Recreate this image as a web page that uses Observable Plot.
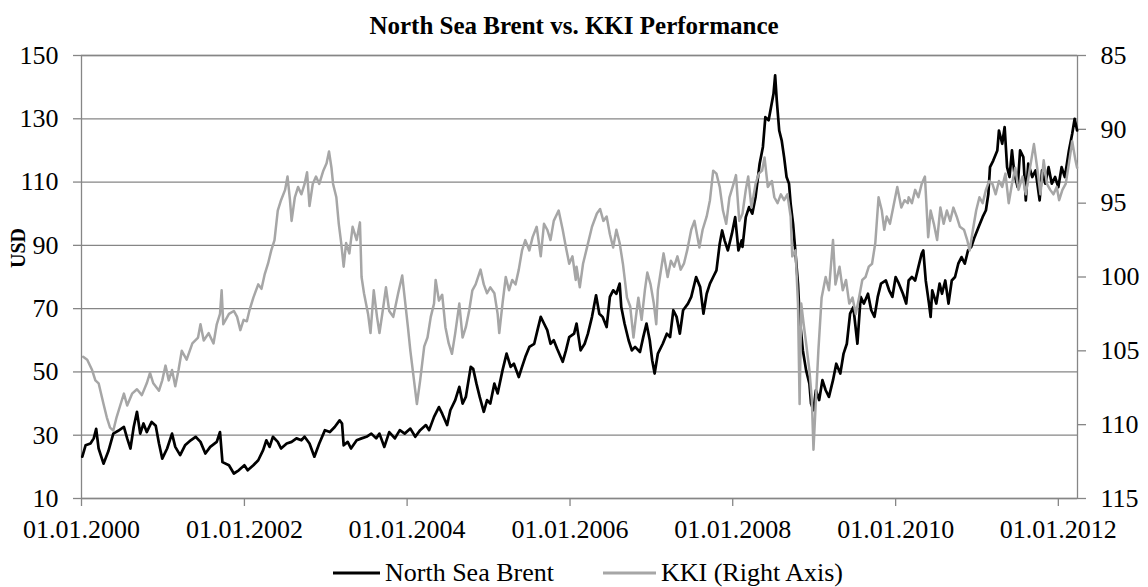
<!DOCTYPE html>
<html>
<head>
<meta charset="utf-8">
<script src="https://cdn.jsdelivr.net/npm/d3@7"></script>
<script src="https://cdn.jsdelivr.net/npm/@observablehq/plot@0.6"></script>
<style>
  html, body { margin: 0; padding: 0; background: #fff; }
  body { width: 1148px; height: 587px; overflow: hidden; font-family: "Liberation Serif", "Times New Roman", serif; }
  #title { height: 40px; line-height: 40px; text-align: center; font-weight: bold; font-size: 25px; padding-top: 6px; box-sizing: border-box; }
  #legend { position: relative; height: 37px; margin-top: 4px; font-size: 26px; }
  #legend .item { position: absolute; top: 0; height: 37px; display: flex; align-items: center; }
  #legend svg { margin-right: 5px; }
</style>
</head>
<body>
<div id="title">North Sea Brent vs. KKI Performance</div>
<div id="chart"></div>
<div id="legend"></div>
<script>
// ---- Data (decimal year, value) ----
const seriesNames = ["North Sea Brent", "KKI (Right Axis)"];
const usdTicks = [10, 30, 50, 70, 90, 110, 130, 150];
const kkiTicks = [85, 90, 95, 100, 105, 110, 115];
const dateTicks = ["2000-01-01", "2002-01-01", "2004-01-01", "2006-01-01", "2008-01-01", "2010-01-01", "2012-01-01"];
const xDomain = ["2000-01-01", "2012-03-27"];

// North Sea Brent, USD
const brent = [
[2000.01,23.2],[2000.05,26.8],[2000.11,27.4],[2000.15,29.0],[2000.18,32.0],[2000.21,25.8],[2000.27,21.0],[2000.33,25.0],
[2000.39,30.5],[2000.45,31.4],[2000.52,32.6],[2000.56,29.0],[2000.60,25.8],[2000.64,32.6],[2000.68,37.4],[2000.72,30.5],
[2000.76,33.7],[2000.80,31.0],[2000.86,34.2],[2000.91,33.0],[2000.95,27.4],[2000.99,22.6],[2001.05,25.8],[2001.11,30.5],
[2001.15,26.3],[2001.21,23.7],[2001.27,26.8],[2001.34,28.4],[2001.40,29.5],[2001.46,27.9],[2001.52,24.2],[2001.58,26.3],
[2001.66,27.9],[2001.70,31.0],[2001.73,21.5],[2001.81,20.5],[2001.87,17.9],[2001.93,18.9],
[2002.00,20.5],[2002.04,18.9],[2002.11,20.5],[2002.17,22.1],[2002.23,25.3],[2002.27,28.4],[2002.31,26.3],[2002.35,29.5],
[2002.41,27.9],[2002.45,25.8],[2002.52,27.4],[2002.58,27.9],[2002.64,29.0],[2002.70,28.4],[2002.74,29.5],[2002.80,27.4],
[2002.86,23.2],[2002.92,27.4],[2002.99,31.6],[2003.05,31.0],[2003.11,32.6],[2003.17,34.7],[2003.20,33.7],[2003.22,26.8],
[2003.27,27.9],[2003.31,25.8],[2003.38,28.4],[2003.44,29.0],[2003.50,29.5],[2003.56,30.5],[2003.62,29.0],[2003.66,30.5],
[2003.72,26.3],[2003.78,31.0],[2003.85,29.0],[2003.91,31.6],[2003.97,30.5],
[2004.04,32.1],[2004.10,29.5],[2004.16,31.6],[2004.23,33.2],[2004.27,31.6],[2004.33,35.8],[2004.39,38.9],[2004.43,36.8],
[2004.49,33.2],[2004.53,37.9],[2004.59,41.1],[2004.64,45.3],[2004.68,40.0],[2004.72,42.1],[2004.78,51.6],[2004.81,51.0],
[2004.85,46.3],[2004.89,42.1],[2004.94,37.4],[2004.98,41.1],[2005.02,40.0],[2005.07,46.3],[2005.11,43.2],[2005.17,50.5],
[2005.22,55.8],[2005.27,51.6],[2005.31,52.6],[2005.37,48.4],[2005.41,51.6],[2005.45,54.7],[2005.50,57.9],[2005.56,58.9],
[2005.60,63.2],[2005.64,67.4],[2005.68,65.3],[2005.72,63.2],[2005.76,58.9],[2005.80,60.0],[2005.84,57.4],[2005.91,53.2],
[2005.95,56.8],[2005.99,61.0],[2006.05,62.1],
[2006.08,65.3],[2006.13,56.8],[2006.18,58.9],[2006.22,62.1],[2006.27,67.4],[2006.32,74.2],[2006.36,68.4],[2006.40,67.4],
[2006.45,64.2],[2006.49,73.7],[2006.53,75.8],[2006.57,74.7],[2006.61,77.9],[2006.63,70.5],[2006.67,65.3],[2006.72,60.0],
[2006.76,56.8],[2006.80,57.9],[2006.86,56.3],[2006.90,61.0],[2006.94,65.3],[2006.98,60.0],[2007.01,53.7],[2007.04,49.5],
[2007.08,55.8],[2007.14,58.9],[2007.19,62.1],[2007.23,61.0],[2007.27,69.5],[2007.31,67.4],[2007.35,62.1],[2007.39,69.5],
[2007.45,71.6],[2007.49,73.7],[2007.55,80.0],[2007.60,76.8],[2007.64,68.4],[2007.68,74.7],[2007.72,77.9],[2007.76,80.0],
[2007.80,82.1],[2007.84,90.5],[2007.87,94.7],[2007.90,91.6],[2007.94,88.4],[2007.99,93.7],[2008.03,98.9],[2008.07,88.4],
[2008.11,91.6],
[2008.12,89.5],[2008.16,98.9],[2008.20,102.1],[2008.24,100.0],[2008.28,105.3],[2008.33,115.8],[2008.37,121.1],[2008.40,130.5],
[2008.44,129.5],[2008.47,133.7],[2008.50,137.9],[2008.52,143.7],[2008.54,135.8],[2008.57,126.3],[2008.60,123.2],[2008.63,117.9],
[2008.66,111.6],[2008.69,109.5],[2008.71,103.2],[2008.74,96.8],[2008.77,87.4],[2008.80,77.9],[2008.82,67.4],[2008.86,56.8],
[2008.90,50.5],[2008.94,46.3],[2008.96,40.0],[2008.99,37.9],[2009.02,44.2],[2009.06,41.1],[2009.10,47.4],[2009.14,44.2],
[2009.18,42.1],[2009.23,47.4],[2009.27,52.6],[2009.32,49.5],[2009.36,55.8],[2009.40,58.9],[2009.44,68.4],[2009.48,70.5],
[2009.53,58.9],[2009.57,73.7],[2009.61,71.6],[2009.66,74.7],[2009.70,69.5],[2009.74,67.4],[2009.78,73.7],[2009.82,77.9],
[2009.88,78.9],[2009.92,75.8],[2009.96,73.7],[2010.00,80.0],[2010.04,77.9],[2010.09,74.7],[2010.13,71.6],
[2010.16,78.9],[2010.20,80.0],[2010.24,78.9],[2010.28,83.2],[2010.32,87.4],[2010.34,88.4],[2010.37,78.9],[2010.41,71.6],
[2010.43,67.4],[2010.45,75.8],[2010.50,71.6],[2010.54,77.9],[2010.57,74.7],[2010.61,78.9],[2010.65,71.6],[2010.69,78.9],
[2010.73,80.0],[2010.77,84.2],[2010.81,86.3],[2010.85,84.2],[2010.89,88.4],[2010.93,89.5],[2010.97,92.6],[2011.02,95.8],
[2011.07,99.0],[2011.11,101.1],[2011.14,106.3],[2011.16,114.7],[2011.20,116.8],[2011.25,120.0],[2011.27,126.3],[2011.31,122.1],
[2011.34,127.4],[2011.37,114.7],[2011.40,111.6],[2011.43,120.0],[2011.46,112.6],[2011.50,108.4],[2011.53,120.0],[2011.57,117.9],
[2011.60,104.2],[2011.63,115.8],[2011.68,111.6],[2011.72,113.7],[2011.77,104.2],[2011.80,113.7],[2011.84,109.5],[2011.88,114.7],
[2011.92,109.5],[2011.96,111.6],[2012.00,108.4],[2012.04,114.7],[2012.08,111.6],[2012.13,120.0],[2012.17,125.3],[2012.20,130.0],
[2012.23,126.3]
];

// KKI, right axis (inverted)
const kki = [
[2000.02,105.4],[2000.07,105.6],[2000.13,106.3],[2000.17,107.0],[2000.21,107.2],[2000.27,108.6],[2000.31,109.5],[2000.35,110.2],
[2000.39,110.4],[2000.43,109.5],[2000.48,108.6],[2000.52,107.9],[2000.56,108.7],[2000.62,107.9],[2000.68,107.6],[2000.74,108.0],
[2000.80,107.2],[2000.84,106.5],[2000.88,107.2],[2000.95,107.7],[2000.99,107.0],[2001.03,106.0],[2001.07,107.0],[2001.11,106.3],
[2001.15,107.4],[2001.19,106.3],[2001.23,105.0],[2001.29,105.6],[2001.36,104.5],[2001.43,104.1],[2001.46,103.2],[2001.50,104.3],
[2001.56,103.8],[2001.62,104.5],[2001.66,103.2],[2001.70,102.5],[2001.72,100.9],[2001.74,103.2],[2001.81,102.5],[2001.87,102.3],
[2001.91,102.7],[2001.95,103.6],[2001.99,102.9],
[2002.03,103.0],[2002.06,102.3],[2002.11,101.4],[2002.17,100.5],[2002.21,100.8],[2002.25,99.8],[2002.29,99.1],[2002.33,98.2],
[2002.37,97.5],[2002.41,95.5],[2002.45,94.8],[2002.50,94.1],[2002.53,93.2],[2002.56,94.8],[2002.58,96.2],[2002.62,94.6],
[2002.66,93.9],[2002.70,94.4],[2002.74,93.7],[2002.77,92.9],[2002.80,95.2],[2002.84,93.7],[2002.88,93.2],[2002.92,93.7],
[2002.97,92.8],[2003.01,92.3],[2003.04,91.5],[2003.07,92.6],[2003.09,93.7],[2003.13,94.6],[2003.16,96.4],[2003.19,97.7],
[2003.22,99.3],[2003.25,97.7],[2003.29,98.4],[2003.33,96.6],[2003.38,97.5],[2003.42,96.3],[2003.44,100.0],[2003.47,101.1],
[2003.52,102.5],[2003.55,103.8],[2003.59,100.9],[2003.63,102.7],[2003.66,103.8],[2003.70,102.3],[2003.74,100.7],[2003.78,102.3],
[2003.83,102.7],[2003.89,101.1],[2003.94,99.9],[2003.97,101.4],[2004.01,103.4],
[2004.04,105.0],[2004.08,106.8],[2004.12,108.6],[2004.16,107.0],[2004.21,104.7],[2004.25,104.1],[2004.29,102.7],[2004.33,101.8],
[2004.35,100.2],[2004.39,101.6],[2004.43,101.2],[2004.47,103.4],[2004.51,104.5],[2004.55,105.2],[2004.59,103.8],[2004.64,101.8],
[2004.68,104.1],[2004.72,103.4],[2004.76,102.3],[2004.80,100.9],[2004.84,100.5],[2004.90,99.5],[2004.94,100.5],[2004.98,101.1],
[2005.02,100.7],[2005.07,101.1],[2005.11,102.5],[2005.13,103.8],[2005.17,101.8],[2005.21,100.0],[2005.25,100.9],[2005.29,100.2],
[2005.33,100.5],[2005.37,99.5],[2005.41,98.2],[2005.45,97.5],[2005.50,98.2],[2005.54,97.3],[2005.59,96.6],[2005.64,98.6],
[2005.68,96.4],[2005.72,96.8],[2005.76,97.5],[2005.80,96.2],[2005.86,95.5],[2005.91,96.8],[2005.95,98.0],[2005.99,99.1],
[2006.03,98.6],[2006.07,100.2],
[2006.08,99.3],[2006.12,100.7],[2006.16,99.1],[2006.20,98.2],[2006.27,96.6],[2006.33,95.7],[2006.37,95.4],[2006.41,96.2],
[2006.45,95.9],[2006.49,97.1],[2006.53,98.0],[2006.57,96.8],[2006.61,97.7],[2006.65,99.1],[2006.70,101.4],[2006.74,102.0],
[2006.78,104.1],[2006.81,102.7],[2006.84,101.4],[2006.88,102.9],[2006.92,100.9],[2006.95,99.7],[2006.99,100.5],[2007.03,101.8],
[2007.06,103.2],[2007.08,100.9],[2007.13,99.1],[2007.15,98.4],[2007.20,100.0],[2007.24,98.9],[2007.28,99.3],[2007.32,98.6],
[2007.36,99.5],[2007.40,99.1],[2007.44,98.2],[2007.49,96.8],[2007.53,96.2],[2007.59,98.0],[2007.63,96.8],[2007.68,95.9],
[2007.72,94.8],[2007.76,92.8],[2007.80,93.0],[2007.84,93.9],[2007.88,95.5],[2007.92,96.4],[2007.96,94.6],[2008.01,93.7],
[2008.04,93.1],[2008.08,96.2],
[2008.12,95.7],[2008.16,94.1],[2008.19,93.2],[2008.23,95.3],[2008.28,93.7],[2008.32,93.0],[2008.36,92.8],[2008.39,91.9],
[2008.43,93.9],[2008.48,93.5],[2008.51,94.6],[2008.55,95.0],[2008.59,94.4],[2008.63,94.8],[2008.67,94.4],[2008.71,95.9],
[2008.73,98.6],[2008.77,98.2],[2008.80,101.8],[2008.82,108.6],[2008.84,101.8],[2008.87,103.2],[2008.90,104.5],[2008.94,106.3],
[2008.97,108.3],[2008.99,111.7],[2009.02,108.3],[2009.05,105.0],[2009.09,101.4],[2009.14,100.0],[2009.18,100.9],[2009.23,97.5],
[2009.26,100.5],[2009.31,99.3],[2009.35,100.9],[2009.39,100.2],[2009.43,101.8],[2009.47,101.4],[2009.51,102.5],[2009.55,101.4],
[2009.59,100.2],[2009.63,100.0],[2009.67,99.3],[2009.71,99.1],[2009.75,97.7],[2009.79,94.6],[2009.83,95.5],[2009.86,96.8],
[2009.89,95.9],[2009.93,96.4],[2009.97,95.3],[2010.02,93.9],[2010.07,95.3],[2010.11,94.8],[2010.15,95.0],
[2010.16,94.6],[2010.20,95.0],[2010.24,94.1],[2010.28,94.6],[2010.32,93.7],[2010.36,93.2],[2010.40,97.3],[2010.43,95.5],
[2010.47,96.4],[2010.51,97.5],[2010.55,95.3],[2010.59,96.4],[2010.63,95.5],[2010.67,96.2],[2010.71,95.3],[2010.75,95.9],
[2010.79,96.6],[2010.84,96.8],[2010.88,97.5],[2010.91,98.2],[2010.95,96.8],[2010.99,95.5],[2011.03,94.6],[2011.07,95.0],
[2011.11,94.1],[2011.15,93.5],[2011.19,93.7],[2011.23,94.4],[2011.27,93.5],[2011.31,93.9],[2011.35,93.0],[2011.39,95.0],
[2011.43,93.7],[2011.47,92.6],[2011.51,94.1],[2011.56,93.2],[2011.60,94.4],[2011.64,93.0],[2011.70,91.0],[2011.74,92.6],
[2011.78,94.4],[2011.82,92.1],[2011.86,93.7],[2011.90,94.1],[2011.94,94.4],[2011.98,93.9],[2012.01,94.8],[2012.05,94.1],
[2012.09,93.7],[2012.13,92.3],[2012.17,90.8],[2012.21,92.1],[2012.23,92.6]
];

// ---- helpers ----
const toDate = y => {
  const yr = Math.floor(y);
  const start = Date.UTC(yr, 0, 1), end = Date.UTC(yr + 1, 0, 1);
  return new Date(start + (y - yr) * (end - start));
};
// map KKI (right axis, inverted 85..115) onto the left USD scale (150..10)
const kkiToUsd = k => 150 - (k - 85) * (140 / 30);
const usdToKki = u => 85 + (150 - u) * (30 / 140);

const brentData = brent.map(([t, v]) => ({date: toDate(t), value: v}));
const kkiData = kki.map(([t, v]) => ({date: toDate(t), value: kkiToUsd(v)}));

const GRID = "#868686";
const BLACK = "#000000";
const GRAY = "#a6a6a6";

const chart = Plot.plot({
  width: 1148,
  height: 510,
  marginTop: 15,
  marginBottom: 52,
  marginLeft: 81,
  marginRight: 71,
  style: {fontFamily: "'Liberation Serif', 'Times New Roman', serif", fontSize: "26px", background: "#fff", overflow: "visible"},
  x: {type: "utc", domain: xDomain.map(d => new Date(d))},
  y: {domain: [10, 150]},
  marks: [
    Plot.gridY(usdTicks, {stroke: GRID, strokeOpacity: 1, strokeWidth: 1.3}),
    Plot.frame({stroke: GRID, strokeWidth: 1.3}),
    Plot.axisY(usdTicks, {anchor: "left", tickSize: 8, tickPadding: 15, stroke: GRID, strokeWidth: 1.3, color: "black", label: null}),
    Plot.axisY(kkiTicks.map(kkiToUsd), {anchor: "right", tickSize: 8, tickPadding: 15, stroke: GRID, strokeWidth: 1.3, color: "black", label: null, tickFormat: v => String(Math.round(usdToKki(v)))}),
    Plot.axisX(dateTicks.map(d => new Date(d)), {anchor: "bottom", tickSize: 8, tickPadding: 13, stroke: GRID, strokeWidth: 1.3, color: "black", label: null, tickFormat: d3.utcFormat("%d.%m.%Y")}),
    Plot.text(["USD"], {frameAnchor: "left", dx: -63, dy: -9, rotate: -90, fontWeight: "bold", fontSize: 20, fill: "black"}),
    Plot.line(brentData, {x: "date", y: "value", stroke: BLACK, strokeWidth: 2.7, strokeLinejoin: "round"}),
    Plot.line(kkiData, {x: "date", y: "value", stroke: GRAY, strokeWidth: 2.5, strokeLinejoin: "round"})
  ]
});
document.getElementById("chart").appendChild(chart);

// legend
const legend = document.getElementById("legend");
const legendLeft = [333, 603];
[[seriesNames[0], BLACK, 47], [seriesNames[1], GRAY, 53]].forEach(([name, color, w], i) => {
  const item = document.createElement("div");
  item.className = "item";
  item.style.left = legendLeft[i] + "px";
  item.innerHTML = `<svg width="${w}" height="6"><line x1="0" y1="3" x2="${w}" y2="3" stroke="${color}" stroke-width="3"/></svg><span>${name}</span>`;
  legend.appendChild(item);
});
</script>
</body>
</html>
